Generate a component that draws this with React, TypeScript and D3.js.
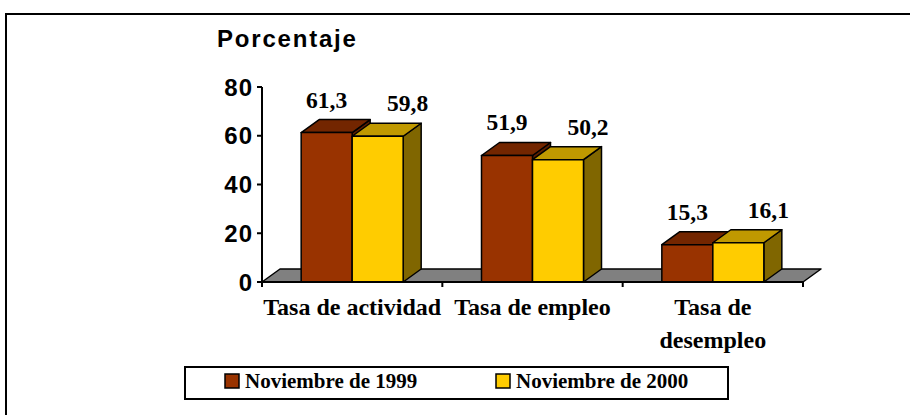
import * as d3 from 'd3'

// Data
const CATEGORIES = ['Tasa de actividad', 'Tasa de empleo', 'Tasa de desempleo']
const SERIES = ['Noviembre de 1999', 'Noviembre de 2000']
const NOV_1999 = [61.3, 51.9, 15.3]
const NOV_2000 = [59.8, 50.2, 16.1]
const Y_TICKS = [0, 20, 40, 60, 80]
const Y_TITLE = 'Porcentaje'

const W = 910
const H = 415
const PLOT = { left: 262, right: 803, top: 87, bottom: 282 }
const DEPTH = { dx: 18, dy: -13 }
const BAR_W = 51

const COLORS = [
  { front: '#993300', top: '#732600', side: '#5c1f00' },
  { front: '#ffcc00', top: '#c09900', side: '#806600' },
]
const LABEL_DX = [0, 30]

const SERIF = '"Liberation Serif", "Times New Roman", serif'
const SANS = '"Liberation Sans", Arial, sans-serif'

const fmt = (v: number) => d3.format('.1f')(v).replace('.', ',')

// wrap a category label to the band width (canvas measure)
const ctx = typeof document !== 'undefined' ? document.createElement('canvas').getContext('2d') : null
function wrap(text: string, width: number, font: string): string[] {
  if (!ctx) return [text]
  ctx.font = font
  const words = text.split(' ')
  const lines: string[] = []
  let cur = ''
  for (const w of words) {
    const next = cur ? cur + ' ' + w : w
    if (cur && ctx.measureText(next).width > width) {
      lines.push(cur)
      cur = w
    } else cur = next
  }
  if (cur) lines.push(cur)
  return lines
}

export default function App() {
  const values = [NOV_1999, NOV_2000]

  const x = d3.scaleBand<string>().domain(CATEGORIES).range([PLOT.left, PLOT.right])
  const xInner = d3.scaleBand<string>().domain(SERIES).range([0, BAR_W * SERIES.length])
  const y = d3.scaleLinear().domain([0, 80]).range([PLOT.bottom, PLOT.top])

  const y0 = y(0)
  const groupOff = (x.bandwidth() - BAR_W * SERIES.length) / 2
  const catFont = `bold 24px ${SERIF}`

  const floor = [
    [PLOT.left, y0],
    [PLOT.right, y0],
    [PLOT.right + DEPTH.dx, y0 + DEPTH.dy],
    [PLOT.left + DEPTH.dx, y0 + DEPTH.dy],
  ]
  const pts = (p: number[][]) => p.map(d => d.join(',')).join(' ')

  const boundaries = [...CATEGORIES.map(c => x(c)!), PLOT.right]

  return (
    <div style={{ position: 'absolute', left: 0, top: 0 }}>
      <svg width={W} height={H} style={{ display: 'block', background: '#fff' }}>
        {/* outer frame */}
        <rect x={6} y={14} width={W} height={H} fill="#fff" stroke="#000" strokeWidth={2} />

        {/* y title */}
        <text x={217} y={47} fontFamily={SANS} fontWeight="bold" fontSize={24} letterSpacing={1.8}>{Y_TITLE}</text>

        {/* floor */}
        <polygon points={pts(floor)} fill="#808080" stroke="#000" strokeWidth={1.5} strokeLinejoin="round" />

        {/* bars */}
        {CATEGORIES.map((c, ci) => (
          <g key={c}>
            {SERIES.map((s, si) => {
              const v = values[si][ci]
              const bx = x(c)! + groupOff + xInner(s)!
              const yt = y(v)
              const top = [[bx, yt], [bx + BAR_W, yt], [bx + BAR_W + DEPTH.dx, yt + DEPTH.dy], [bx + DEPTH.dx, yt + DEPTH.dy]]
              const side = [[bx + BAR_W, yt], [bx + BAR_W + DEPTH.dx, yt + DEPTH.dy], [bx + BAR_W + DEPTH.dx, y0 + DEPTH.dy], [bx + BAR_W, y0]]
              return (
                <g key={s} stroke="#000" strokeWidth={1.5} strokeLinejoin="round">
                  <polygon points={pts(side)} fill={COLORS[si].side} />
                  <polygon points={pts(top)} fill={COLORS[si].top} />
                  <rect x={bx} y={yt} width={BAR_W} height={y0 - yt} fill={COLORS[si].front} />
                </g>
              )
            })}
          </g>
        ))}

        {/* value labels */}
        {CATEGORIES.map((c, ci) =>
          SERIES.map((s, si) => {
            const v = values[si][ci]
            const cx = x(c)! + groupOff + xInner(s)! + BAR_W / 2 + LABEL_DX[si]
            return (
              <text key={c + s} x={cx} y={y(v) + DEPTH.dy - 12} textAnchor="middle"
                fontFamily={SERIF} fontWeight="bold" fontSize={23.5}>{fmt(v)}</text>
            )
          })
        )}

        {/* axes */}
        <line x1={PLOT.left} y1={y(80)} x2={PLOT.left} y2={y0} stroke="#000" strokeWidth={2} />
        <line x1={PLOT.left} y1={y0} x2={PLOT.right} y2={y0} stroke="#000" strokeWidth={2} />
        {Y_TICKS.map(t => (
          <g key={t}>
            <line x1={PLOT.left - 5} x2={PLOT.left} y1={y(t)} y2={y(t)} stroke="#000" strokeWidth={2} />
            <text x={PLOT.left - 9} y={y(t) + 8.5} textAnchor="end" fontFamily={SANS}
              fontWeight="bold" fontSize={24} letterSpacing={1}>{t}</text>
          </g>
        ))}
        {boundaries.map((bx, i) => (
          <line key={i} x1={bx} x2={bx} y1={y0} y2={y0 + 5} stroke="#000" strokeWidth={2} />
        ))}

        {/* category labels */}
        {CATEGORIES.map(c => (
          <text key={c} textAnchor="middle" fontFamily={SERIF} fontWeight="bold" fontSize={24}>
            {wrap(c, x.bandwidth(), catFont).map((ln, i) => (
              <tspan key={i} x={x(c)! + x.bandwidth() / 2} y={315 + i * 33}>{ln}</tspan>
            ))}
          </text>
        ))}

        {/* legend */}
        <rect x={185} y={367} width={543} height={32} fill="#fff" stroke="#000" strokeWidth={2} />
        {SERIES.map((s, si) => {
          const lx = [225, 496][si]
          return (
            <g key={s}>
              <rect x={lx} y={374} width={14} height={14} fill={COLORS[si].front} stroke="#000" strokeWidth={1.5} />
              <text x={lx + 20} y={388} fontFamily={SERIF} fontWeight="bold" fontSize={21}>{s}</text>
            </g>
          )
        })}
      </svg>
    </div>
  )
}
